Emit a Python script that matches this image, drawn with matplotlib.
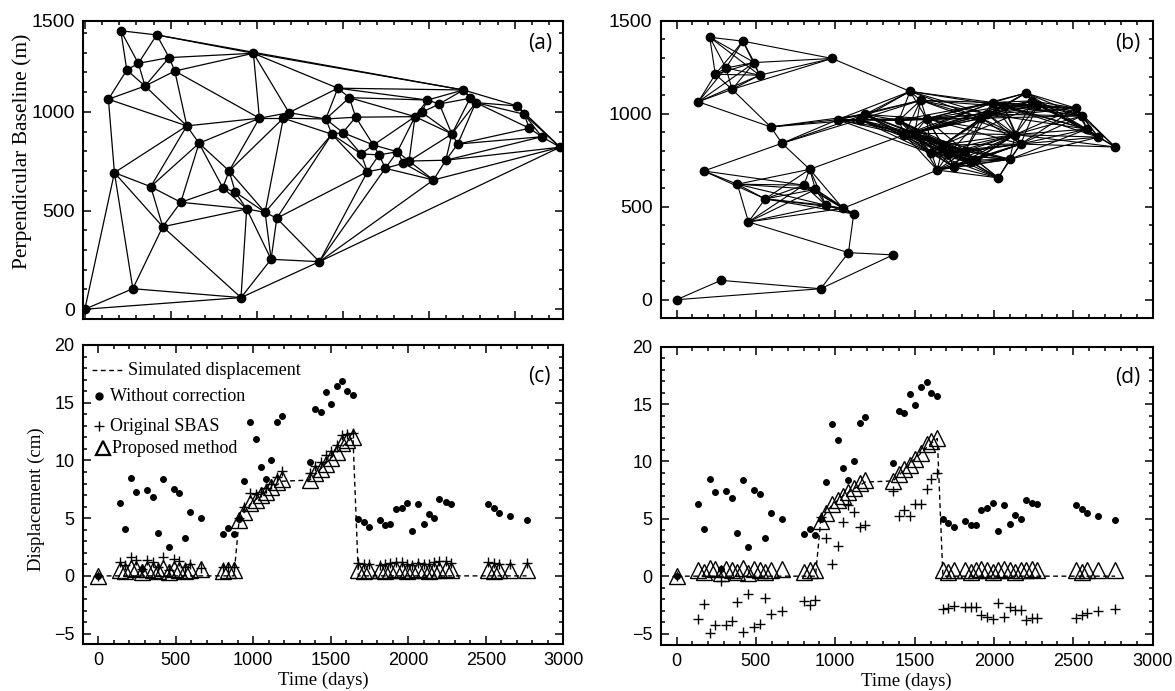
import numpy as np
import matplotlib
matplotlib.use("Agg")
import matplotlib.pyplot as plt
import matplotlib.tri as mtri
from matplotlib.ticker import MultipleLocator

plt.rcParams['font.family'] = ['Liberation Sans', 'DejaVu Sans']
SERIF = ['Liberation Serif', 'DejaVu Serif']

# acquisition dates (days since first image) and perpendicular baselines (m)
days = [0, 137, 172, 209, 244, 279, 311, 350, 383, 418, 453, 490, 523, 558, 593,
        664, 802, 839, 875, 908, 941, 980, 1015, 1048, 1083, 1116, 1154, 1187,
        1364, 1401, 1436, 1471, 1500, 1538, 1575, 1606, 1643, 1678, 1711, 1747,
        1817, 1852, 1885, 1920, 1959, 1992, 2027, 2061, 2099, 2134, 2168, 2201,
        2240, 2273, 2515, 2554, 2585, 2657, 2763]
bperp = [0, 1064, 692, 1411, 1212, 104, 1246, 1131, 621, 1390, 418, 1275, 1207,
         542, 929, 841, 616, 701, 593, 59, 508, 1297, 968, 491, 253, 461, 968,
         996, 241, 964, 887, 1120, 895, 1072, 973, 787, 697, 832, 782, 714, 798,
         740, 751, 976, 998, 1060, 655, 1040, 755, 888, 837, 1111, 1069, 1047,
         1030, 988, 917, 874, 821]

# displacement time series (cm)
simulated = [0, 0, 0, 0, 0, 0, 0, 0, 0, 0, 0, 0, 0, 0, 0, 0, 0, 0, 0,
             4.8, 5.5, 6.2, 6.6, 7.0, 7.3, 7.6, 7.9, 8.2,
             8.3, 8.8, 9.3, 9.8, 10.2, 10.7, 11.2, 11.6, 12.0,
             0, 0, 0, 0, 0, 0, 0, 0, 0, 0, 0, 0, 0, 0, 0, 0, 0, 0, 0, 0, 0, 0]
no_correction = [0.0, 6.3, 4.1, 8.5, 7.3, 0.63, 7.45, 6.8, 3.75, 8.35, 2.5, 7.55,
                 7.2, 3.3, 5.5, 5.0, 3.65, 4.15, 3.6,
                 4.95, 8.2, 13.3, 11.85, 9.4, 8.4, 10.0, 13.35, 13.85,
                 9.85, 14.42, 14.22, 15.92, 14.88, 16.47, 16.9, 16.0, 15.66,
                 4.95, 4.65, 4.27, 4.8, 4.45, 4.5, 5.8, 5.92, 6.35, 3.93, 6.23,
                 4.53, 5.33, 4.98, 6.63, 6.42, 6.25, 6.2, 5.88, 5.48, 5.21, 4.87]
sbas_tri = [0.0, 1.2, 0.9, 1.6, 1.4, 0.6, 1.4, 1.2, 0.8, 1.6, 0.5, 1.5, 1.3, 0.8,
            1.0, 0.7, 0.8, 0.8, 0.8,
            5.0, 6.0, 7.2, 7.1, 7.3, 7.6, 8.0, 8.6, 9.1,
            8.9, 9.5, 9.9, 10.5, 10.8, 11.3, 12.2, 12.3, 12.4,
            1.1, 1.0, 1.0, 0.9, 1.0, 1.1, 1.2, 1.2, 1.0, 0.9, 1.1, 1.0, 1.0,
            1.2, 1.3, 1.3, 1.1, 1.2, 1.1, 1.0, 1.0, 1.1]
sbas_sb = [0.0, -3.75, -2.45, -4.96, -4.24, -0.43, -4.24, -3.95, -2.28, -4.9,
           -1.56, -4.44, -4.18, -1.93, -3.29, -3.0, -2.16, -2.51, -2.08,
           5.13, 3.32, 1.07, 2.65, 4.75, 6.2, 5.56, 4.3, 4.5,
           7.38, 5.28, 5.77, 5.28, 6.29, 6.29, 7.58, 8.45, 9.02,
           -2.88, -2.8, -2.6, -2.71, -2.65, -2.65, -3.37, -3.52, -3.75, -2.31,
           -3.52, -2.65, -2.94, -2.94, -3.81, -3.66, -3.66, -3.66, -3.37,
           -3.17, -3.03, -2.88]
proposed = [0.0, 0.5, 0.4, 0.7, 0.6, 0.3, 0.6, 0.5, 0.4, 0.7, 0.3, 0.6, 0.5, 0.4,
            0.5, 0.6, 0.4, 0.5, 0.5,
            4.8, 5.5, 6.3, 6.6, 7.0, 7.3, 7.7, 8.1, 8.4,
            8.3, 8.9, 9.3, 9.7, 10.2, 10.7, 11.5, 11.8, 12.0,
            0.5, 0.4, 0.5, 0.5, 0.4, 0.5, 0.6, 0.5, 0.4, 0.5, 0.6, 0.5, 0.4,
            0.5, 0.5, 0.6, 0.5, 0.5, 0.4, 0.5, 0.5, 0.5]

# (a) triangulated network: hull slivers that are not used
drop_edges = [(0, 1), (1, 3)]
# (b) small-baseline network: temporal / spatial thresholds plus bridging links
max_dt = 650
max_db = 215
extra_links = [(0, 19)]

t = np.array(days, dtype=float)
b = np.array(bperp, dtype=float)

fig = plt.figure(figsize=(11.75, 6.91), dpi=100)
ax_a = fig.add_axes([0.07089, 0.53907, 0.40851, 0.43097])
ax_b = fig.add_axes([0.56230, 0.53936, 0.41872, 0.43068])
ax_c = fig.add_axes([0.07047, 0.06802, 0.40894, 0.43271])
ax_d = fig.add_axes([0.56230, 0.06657, 0.41872, 0.43169])


def style(ax, size):
    for s in ax.spines.values():
        s.set_linewidth(1.5)
    ax.tick_params(which='both', direction='in', top=True, right=True,
                   width=1.1, labelsize=size, pad=6)
    ax.tick_params(which='major', length=5.5)
    ax.tick_params(which='minor', length=3)
    ax.xaxis.set_major_locator(MultipleLocator(500))
    ax.xaxis.set_minor_locator(MultipleLocator(100))


def link(ax, i, j, lw):
    ax.plot([t[i], t[j]], [b[i], b[j]], color='k', lw=lw, zorder=1)


# --- (a) Delaunay network
tri = mtri.Triangulation(t / 5.815, b / 5.066)
for i, j in tri.edges:
    if (min(i, j), max(i, j)) in drop_edges:
        continue
    link(ax_a, i, j, 0.9)
ax_a.plot(t, b, 'o', color='k', ms=6, zorder=2)
ax_a.set_xlim(-9, 2782)
ax_a.set_ylim(-47, 1462)
style(ax_a, 14)
ax_a.set_yticks([0, 500, 1000, 1462], ['0', '500', '1000', '1500'])
ax_a.yaxis.set_minor_locator(MultipleLocator(100))
ax_a.tick_params(labelbottom=False)
ax_a.text(0.951, 0.922, '(a)', transform=ax_a.transAxes, ha='center', va='center',
          fontsize=15, family=['Open Sans', 'DejaVu Sans'])

# --- (b) small-baseline network
n = len(t)
for i in range(n):
    for j in range(i + 1, n):
        if abs(t[j] - t[i]) <= max_dt and abs(b[j] - b[i]) <= max_db:
            link(ax_b, i, j, 0.8)
for i, j in extra_links:
    link(ax_b, i, j, 0.8)
ax_b.plot(t, b, 'o', color='k', ms=6, zorder=2)
ax_b.set_xlim(-100, 3000)
ax_b.set_ylim(-100, 1500)
style(ax_b, 14)
ax_b.yaxis.set_major_locator(MultipleLocator(500))
ax_b.yaxis.set_minor_locator(MultipleLocator(100))
ax_b.tick_params(labelbottom=False)
ax_b.text(0.950, 0.925, '(b)', transform=ax_b.transAxes, ha='center', va='center',
          fontsize=15, family=['Open Sans', 'DejaVu Sans'])


# --- (c), (d) displacement time series
def series(ax, sbas, ylo, tag, tag_y):
    ax.plot(t, simulated, color='k', lw=1, ls=(0, (3.5, 2.5)), zorder=1)
    ax.plot(t, proposed, '^', mfc='none', mec='k', ms=12, mew=1, zorder=2)
    ax.plot(t, sbas, '+', color='k', ms=7, mew=1, zorder=3)
    ax.plot(t, no_correction, 'o', color='k', ms=4, zorder=4)
    ax.set_xlim(-100, 3000)
    ax.set_ylim(ylo, 20)
    style(ax, 13)
    ax.yaxis.set_major_locator(MultipleLocator(5))
    ax.yaxis.set_minor_locator(MultipleLocator(1))
    ax.set_xlabel('Time (days)', family=SERIF, fontsize=13.5, labelpad=2)
    ax.text(0.950, tag_y, tag, transform=ax.transAxes, ha='center', va='center',
            fontsize=15, family=['Open Sans', 'DejaVu Sans'])


series(ax_c, sbas_tri, -5.9, '(c)', 0.893)
series(ax_d, sbas_sb, -6.0, '(d)', 0.898)

# legend of (c)
tr = ax_c.transAxes
ax_c.plot([0.019, 0.084], [0.916, 0.916], color='k', lw=1, ls=(0, (3.5, 2.5)), transform=tr)
ax_c.text(0.094, 0.916, 'Simulated displacement', transform=tr, va='center',
          family=SERIF, fontsize=13)
ax_c.plot([0.034], [0.829], 'o', color='k', ms=5, transform=tr)
ax_c.text(0.057, 0.829, 'Without correction', transform=tr, va='center',
          family=SERIF, fontsize=13)
ax_c.plot([0.034], [0.729], '+', color='k', ms=7, mew=1, transform=tr)
ax_c.text(0.057, 0.729, 'Original SBAS', transform=tr, va='center',
          family=SERIF, fontsize=13)
ax_c.plot([0.041], [0.655], '^', mfc='none', mec='k', ms=10, mew=1.6, transform=tr)
ax_c.text(0.060, 0.655, 'Proposed method', transform=tr, va='center',
          family=SERIF, fontsize=13)

fig.text(22 / 1175, 1 - 151 / 691, 'Perpendicular Baseline (m)', rotation=90,
         ha='center', va='center', family=SERIF, fontsize=15.5)
fig.text(36 / 1175, 1 - 499 / 691, 'Displacement (cm)', rotation=90,
         ha='center', va='center', family=SERIF, fontsize=13.5)

fig.savefig('out.png', dpi=100)
